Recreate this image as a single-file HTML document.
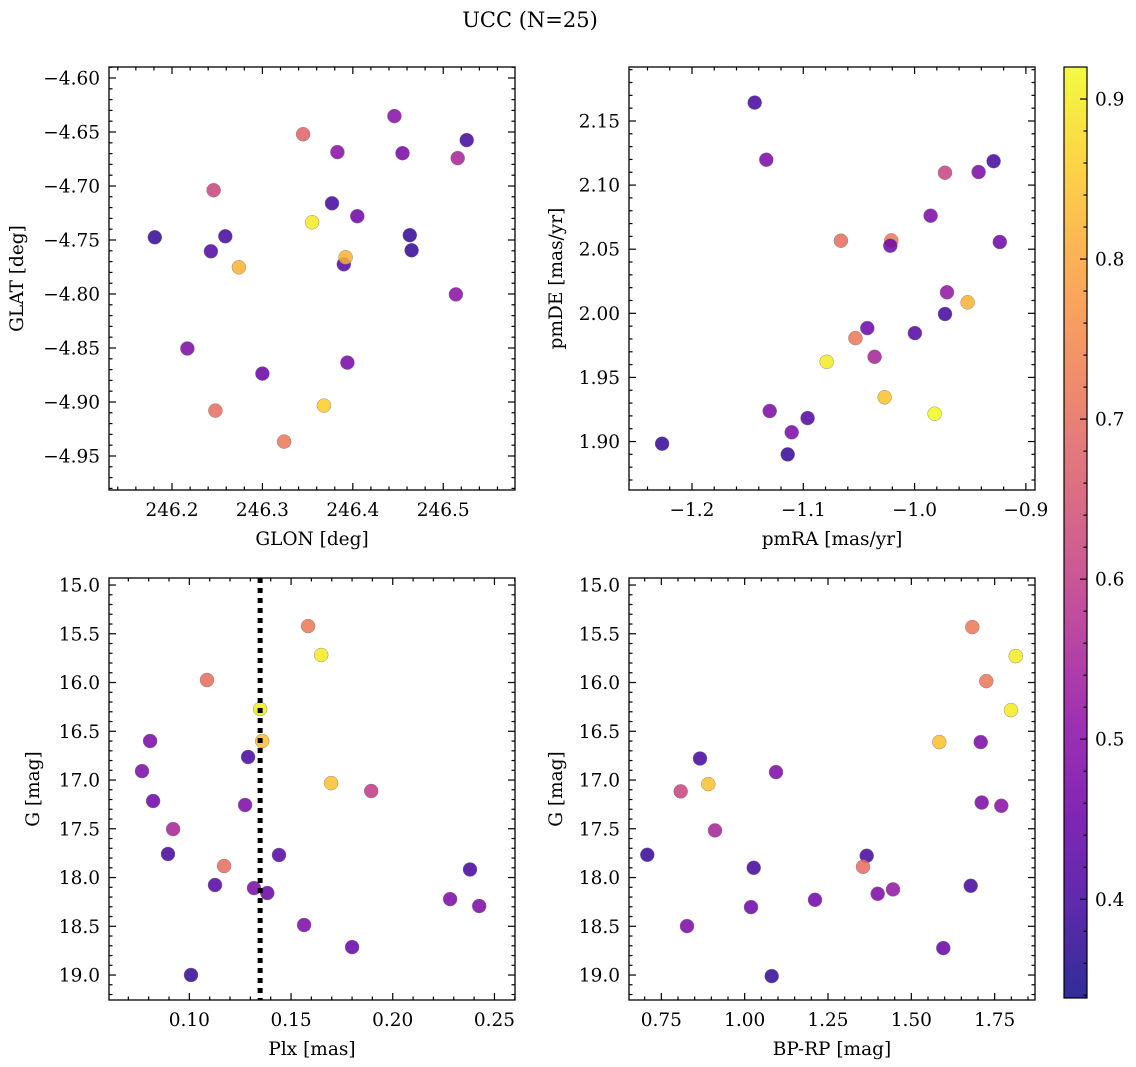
<!DOCTYPE html>
<html><head><meta charset="utf-8">
<style>
html,body{margin:0;padding:0;background:#fff;}
svg{display:block;font-family:"DejaVu Serif","Liberation Serif",serif;}
</style></head>
<body>
<svg id="fig" width="1136" height="1067" viewBox="0 0 1136 1067">
<defs>
<linearGradient id="plasma" x1="0" y1="1" x2="0" y2="0"></linearGradient>
</defs>
<text x="530" y="27" text-anchor="middle" font-size="21">UCC (N=25)</text>
</svg>
<script>
// ---- data ----
const glon = [246.181,246.217,246.243,246.246,246.248,246.259,246.274,246.300,246.324,246.345,246.355,246.368,246.377,246.383,246.390,246.392,246.394,246.405,246.446,246.455,246.463,246.465,246.514,246.516,246.526];
const glat = [-4.7475,-4.8505,-4.7605,-4.7039,-4.908,-4.7466,-4.7753,-4.8737,-4.9367,-4.652,-4.7336,-4.9033,-4.716,-4.6686,-4.7725,-4.766,-4.8635,-4.728,-4.6353,-4.6696,-4.7456,-4.7595,-4.8004,-4.6742,-4.6575];
const cTL = [0.38,0.48,0.42,0.62,0.70,0.40,0.82,0.45,0.72,0.68,0.90,0.86,0.40,0.50,0.42,0.82,0.47,0.46,0.50,0.47,0.38,0.38,0.50,0.55,0.40];

const pmra = [-1.1437,-1.1332,-1.2269,-1.1140,-1.1302,-1.1104,-1.0961,-1.0790,-1.0662,-1.0532,-1.0359,-1.0425,-1.0269,-1.0209,-1.0218,-0.9856,-0.9997,-0.9820,-0.9727,-0.9709,-0.9524,-0.9727,-0.9425,-0.9290,-0.9234];
const pmde = [2.1643,2.1198,1.8983,1.8900,1.9238,1.9072,1.9183,1.9622,2.0566,1.9807,1.9661,1.9885,1.9345,2.0569,2.0527,2.0761,1.9846,1.9217,1.9995,2.0164,2.0086,2.1097,2.1102,2.1186,2.0556];
const cTR = [0.40,0.48,0.38,0.38,0.48,0.48,0.42,0.90,0.70,0.72,0.55,0.46,0.84,0.72,0.46,0.48,0.42,0.92,0.40,0.52,0.82,0.62,0.48,0.40,0.46];

const plx = [0.0807,0.0767,0.0822,0.0920,0.0895,0.1008,0.1087,0.1126,0.1171,0.1274,0.1289,0.1318,0.1348,0.1358,0.1383,0.1441,0.1564,0.1584,0.1648,0.1697,0.1800,0.1894,0.2282,0.2380,0.2425];
const gBL = [16.6,16.908,17.215,17.503,17.759,19.0,15.974,18.077,17.882,17.256,16.764,18.108,16.272,16.6,18.159,17.769,18.487,15.421,15.718,17.031,18.713,17.113,18.221,17.918,18.292];
const cBL = [0.48,0.48,0.46,0.55,0.40,0.38,0.70,0.42,0.70,0.48,0.40,0.48,0.90,0.84,0.45,0.42,0.48,0.72,0.90,0.84,0.45,0.60,0.48,0.40,0.48];
const plxLine = [0.1348];

const bprp = [0.708,0.866,0.808,0.891,0.911,0.827,1.027,1.019,1.094,1.081,1.211,1.366,1.355,1.399,1.445,1.584,1.596,1.678,1.683,1.708,1.711,1.725,1.770,1.799,1.813];
const gBR = [17.767,16.779,17.117,17.042,17.517,18.498,17.900,18.303,16.919,19.011,18.228,17.777,17.890,18.167,18.122,16.611,18.724,18.085,15.432,16.611,17.230,15.985,17.264,16.283,15.729];
const cBR = [0.38,0.40,0.62,0.84,0.55,0.48,0.40,0.46,0.48,0.38,0.46,0.40,0.70,0.48,0.52,0.84,0.45,0.40,0.72,0.48,0.48,0.72,0.50,0.90,0.90];

const xTicksTL = [246.2,246.3,246.4,246.5];
const yTicksTL = [-4.60,-4.65,-4.70,-4.75,-4.80,-4.85,-4.90,-4.95];
const xTicksTR = [-1.2,-1.1,-1.0,-0.9];
const yTicksTR = [1.90,1.95,2.00,2.05,2.10,2.15];
const xTicksBL = [0.10,0.15,0.20,0.25];
const xTicksBR = [0.75,1.00,1.25,1.50,1.75];
const yTicksG = [15.0,15.5,16.0,16.5,17.0,17.5,18.0,18.5,19.0];
const cbTicks = [0.4,0.5,0.6,0.7,0.8,0.9];

const NS = 'http://www.w3.org/2000/svg';
const svg = document.getElementById('fig');
const FS = 18.5;
function el(tag, attrs, parent){const e=document.createElementNS(NS,tag);for(const k in attrs)e.setAttribute(k,attrs[k]);(parent||svg).appendChild(e);return e;}

// plasma colormap
const PL=[[0,'#0d0887'],[0.1,'#41049d'],[0.2,'#6a00a8'],[0.3,'#8f0da4'],[0.4,'#b12a90'],[0.5,'#cc4778'],[0.6,'#e16462'],[0.7,'#f2844b'],[0.8,'#fca636'],[0.9,'#fcce25'],[1,'#f0f921']];
function hex(h){return [parseInt(h.slice(1,3),16),parseInt(h.slice(3,5),16),parseInt(h.slice(5,7),16)];}
const VMIN=0.3383, VMAX=0.92;
function cmap(v){let t=(v-VMIN)/(VMAX-VMIN);t=Math.max(0,Math.min(1,t));
 for(let i=0;i<PL.length-1;i++){if(t<=PL[i+1][0]){const a=hex(PL[i][1]),b=hex(PL[i+1][1]);const f=(t-PL[i][0])/(PL[i+1][0]-PL[i][0]);
 return 'rgb('+a.map((x,j)=>Math.round(x+(b[j]-x)*f)).join(',')+')';}}return PL[PL.length-1][1];}

function fmt(v,d){const s=Math.abs(v).toFixed(d);return (v<0?'\u2212':'')+s;}

function panel(name,box,xd,yd,xt,yt,xdec,ydec,xminor,yminor,xlabel,ylabel,ylx,xs,ys,cs){
 const g=el('g',{});
 const sx=v=>box.x0+(v-xd[0])/(xd[1]-xd[0])*(box.x1-box.x0);
 const sy=v=>box.y0+(v-yd[0])/(yd[1]-yd[0])*(box.y1-box.y0);
 const pts=el('g',{},g);
 for(let i=0;i<xs.length;i++){
  const c=el('circle',{cx:sx(xs[i]).toFixed(1),cy:sy(ys[i]).toFixed(1),r:7,fill:cmap(cs[i]),'fill-opacity':0.85,stroke:'#777','stroke-width':0.4},pts);
  
  
 }
 const tk=el('g',{stroke:'#000','stroke-width':1.2,},g);
 const lo=Math.min(xd[0],xd[1]),hi=Math.max(xd[0],xd[1]);
 for(let v=Math.ceil(lo/xminor-1e-6)*xminor;v<=hi+1e-9;v+=xminor){const X=sx(v);
  const maj=xt.some(t=>Math.abs(t-v)<xminor/3);const L=maj?7:3.5;
  el('line',{x1:X,x2:X,y1:box.y1,y2:box.y1-L},tk);el('line',{x1:X,x2:X,y1:box.y0,y2:box.y0+L},tk);}
 const ylo=Math.min(yd[0],yd[1]),yhi=Math.max(yd[0],yd[1]);
 for(let v=Math.ceil(ylo/yminor-1e-6)*yminor;v<=yhi+1e-9;v+=yminor){const Y=sy(v);
  const maj=yt.some(t=>Math.abs(t-v)<yminor/3);const L=maj?7:3.5;
  el('line',{x1:box.x0,x2:box.x0+L,y1:Y,y2:Y},tk);el('line',{x1:box.x1,x2:box.x1-L,y1:Y,y2:Y},tk);}
 el('rect',{x:box.x0,y:box.y0,width:box.x1-box.x0,height:box.y1-box.y0,fill:'none',stroke:'#000','stroke-width':1.3},g);
 const lab=el('g',{'font-size':FS,fill:'#000'},g);
 xt.forEach(v=>{const t=el('text',{x:sx(v),y:box.y1+26,'text-anchor':'middle'},lab);t.textContent=fmt(v,xdec);
  });
 yt.forEach(v=>{const t=el('text',{x:box.x0-9,y:sy(v)+6.5,'text-anchor':'end'},lab);t.textContent=fmt(v,ydec);
  });
 const xl=el('text',{x:(box.x0+box.x1)/2,y:box.y1+55,'text-anchor':'middle','font-size':FS,},g);xl.textContent=xlabel;
 const yc=(box.y0+box.y1)/2;
 const yl=el('text',{x:ylx,y:yc,'text-anchor':'middle','font-size':FS,transform:'rotate(-90 '+ylx+' '+yc+')',},g);yl.textContent=ylabel;
 return {sx,sy,g};
}

panel('glon-glat-panel',{x0:109,x1:515,y0:67,y1:490},[246.1303,246.5794],[-4.5898,-4.9815],xTicksTL,yTicksTL,1,2,0.02,0.01,'GLON [deg]','GLAT [deg]',23,glon,glat,cTL);
panel('pm-panel',{x0:629,x1:1035,y0:67,y1:490},[-1.2566,-0.8918],[2.1921,1.8622],xTicksTR,yTicksTR,1,2,0.02,0.01,'pmRA [mas/yr]','pmDE [mas/yr]',562,pmra,pmde,cTR);
const bl=panel('plx-g-panel',{x0:109,x1:515,y0:578,y1:1000},[0.0605,0.2601],[14.928,19.256],xTicksBL,yTicksG,2,1,0.01,0.1,'Plx [mas]','G [mag]',39,plx,gBL,cBL);
panel('cmd-panel',{x0:629,x1:1035,y0:578,y1:1000},[0.653,1.871],[14.928,19.256],xTicksBR,yTicksG,2,1,0.05,0.1,'BP-RP [mag]','G [mag]',562,bprp,gBR,cBR);

plxLine.forEach(v=>{const X=bl.sx(v);
 const ln=el('line',{x1:X,x2:X,y1:578,y2:1000,stroke:'#000','stroke-width':5,'stroke-dasharray':'5,5'});
 
 
});

// colorbar
const grad=document.getElementById('plasma');
for(let i=0;i<=20;i++){const t=i/20;const v=VMIN+t*(VMAX-VMIN);el('stop',{offset:t,'stop-color':cmap(v),'stop-opacity':0.85},grad);}
const cb=el('g',{});
const cy0=67,cy1=998,cx0=1064,cx1=1087;
const cby=v=>cy1-(v-VMIN)/(VMAX-VMIN)*(cy1-cy0);
el('rect',{x:cx0,y:cy0,width:cx1-cx0,height:cy1-cy0,fill:'url(#plasma)',stroke:'#000','stroke-width':1.2},cb);
for(let v=0.34;v<=0.92;v+=0.02){const maj=cbTicks.some(t=>Math.abs(t-v)<0.005);const Y=cby(v);
 el('line',{x1:cx1,x2:cx1-(maj?7:3.5),y1:Y,y2:Y,stroke:'#000','stroke-width':1.2},cb);}
cbTicks.forEach(v=>{const t=el('text',{x:cx1+8,y:cby(v)+6.5,'font-size':FS},cb);t.textContent=v.toFixed(1);
 });
</script>
</body></html>
